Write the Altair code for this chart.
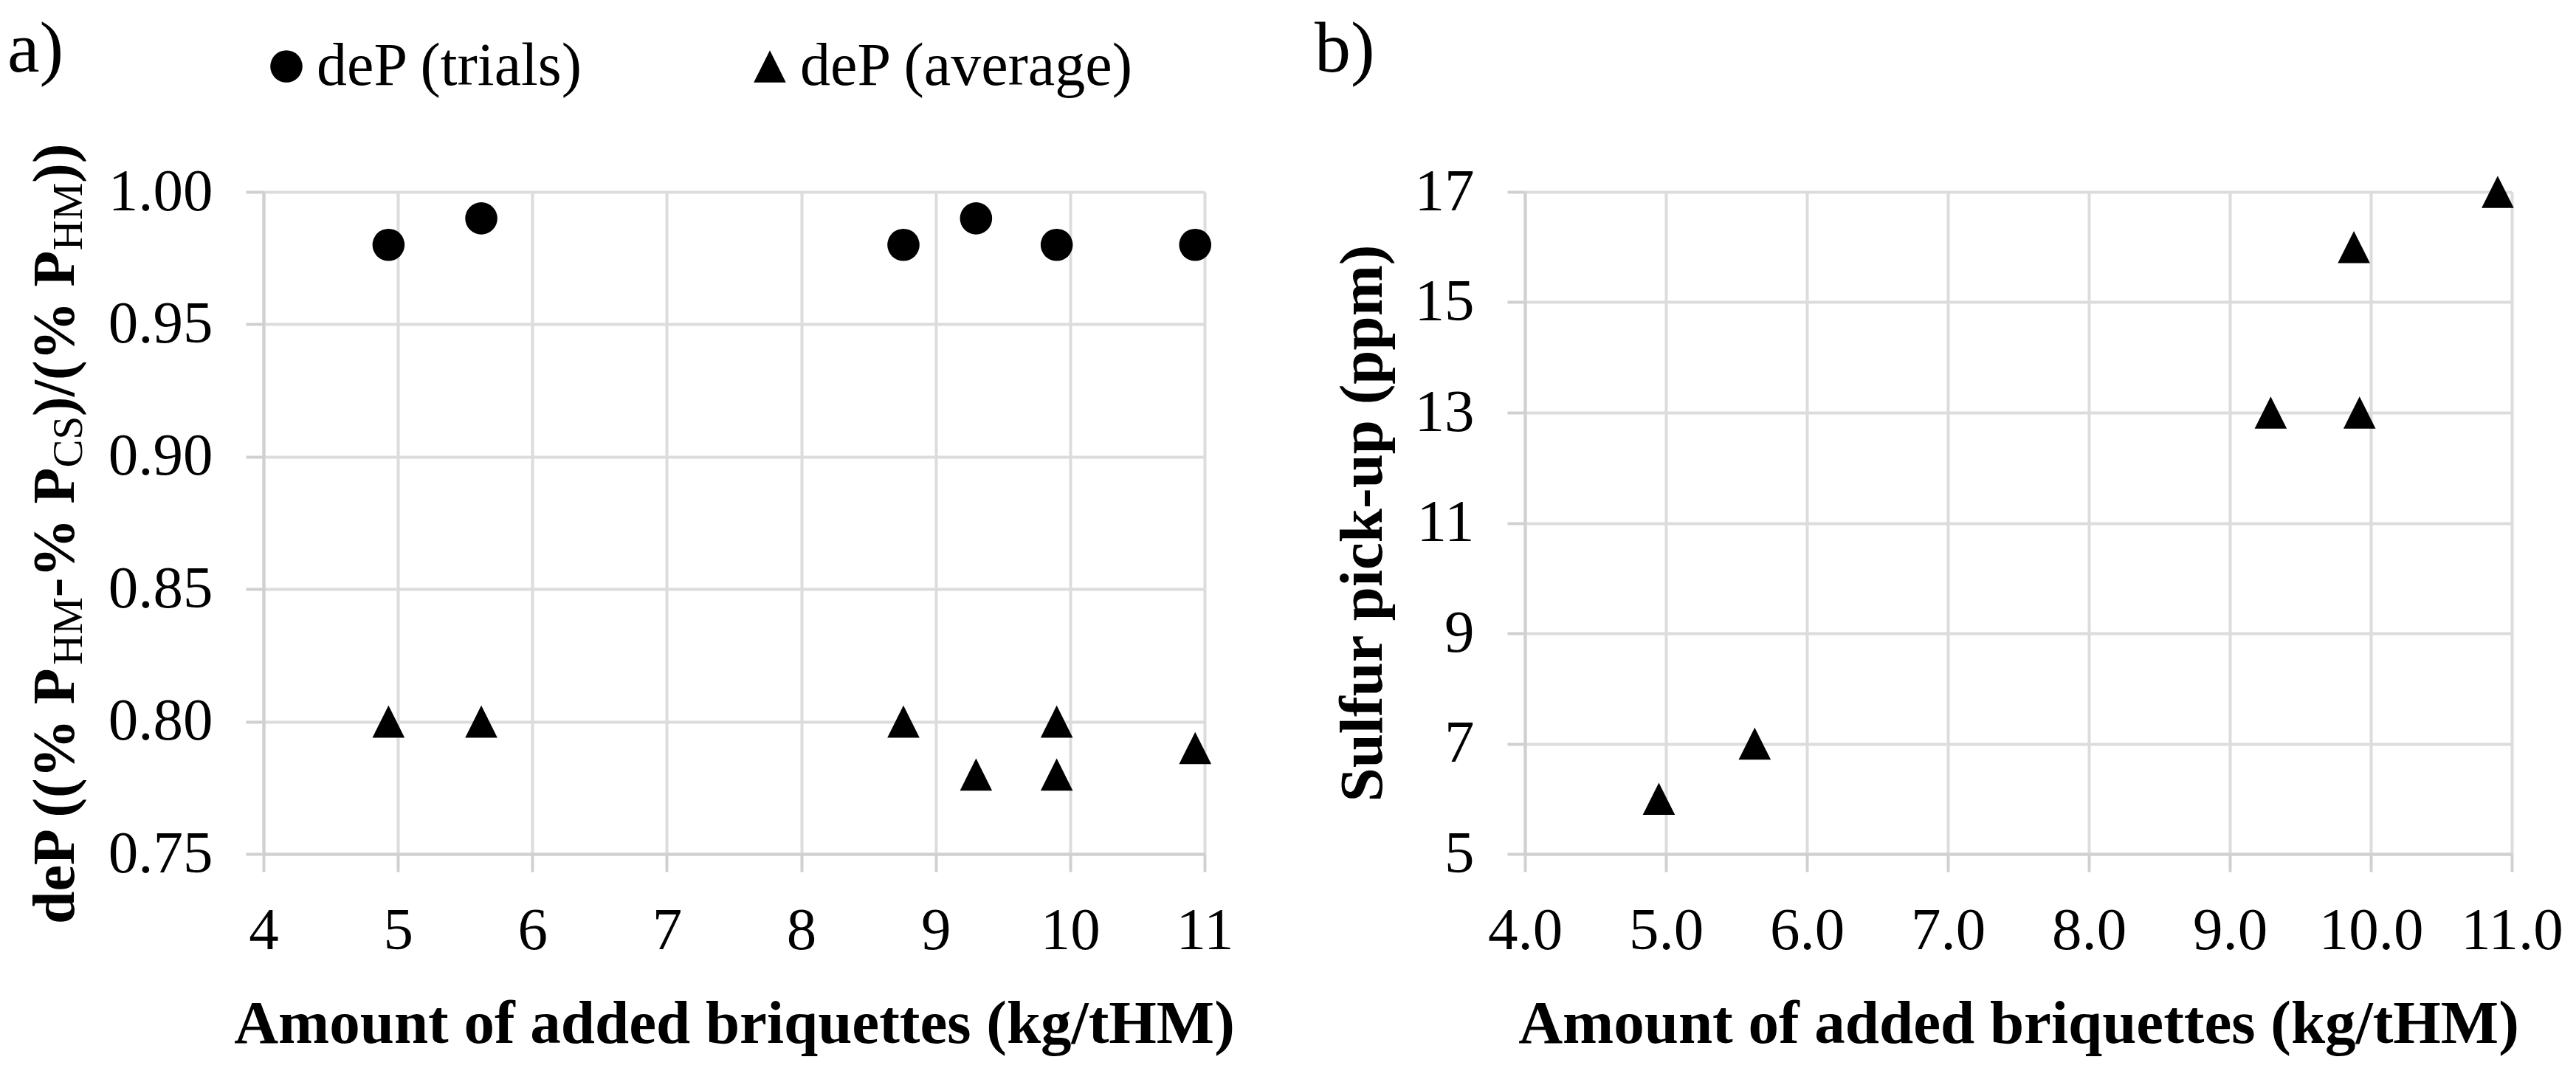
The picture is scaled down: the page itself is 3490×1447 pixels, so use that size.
import altair as alt
import pandas as pd

FONT = "Liberation Serif"

# ---- data ----
series_names = ["deP (trials)", "deP (average)"]

trial_x = [4.93, 5.62, 8.76, 9.30, 9.90, 10.93]
trial_y = [0.98, 0.99, 0.98, 0.99, 0.98, 0.98]

avg_x = [4.93, 5.62, 8.76, 9.30, 9.90, 9.90, 10.93]
avg_y = [0.80, 0.80, 0.80, 0.78, 0.80, 0.78, 0.79]

sulfur_x = [4.95, 5.63, 9.29, 9.88, 9.92, 10.90]
sulfur_y = [6, 7, 13, 16, 13, 17]

xticks_a = [4, 5, 6, 7, 8, 9, 10, 11]
yticks_a = [0.75, 0.80, 0.85, 0.90, 0.95, 1.00]
xticks_b = [4.0, 5.0, 6.0, 7.0, 8.0, 9.0, 10.0, 11.0]
yticks_b = [5, 7, 9, 11, 13, 15, 17]

panel_labels = ["a)", "b)"]
x_title = "Amount of added briquettes (kg/tHM)"
y_title_b = "Sulfur pick-up (ppm)"
# y title of panel a, split into normal and subscript parts
y_title_a_parts = ["deP ((% P", "HM", "-% P", "CS", ")/(% P", "HM", "))"]
y_title_a_sub = [False, True, False, True, False, True, False]

TRI = "M-1,1L0,-1L1,1Z"
GRID = "#dcdcdc"
DOMAIN = "#d0d0d0"
SYM = 1900

# Times-compatible advance widths (per 1000 em) for laying out the rich title
BOLD_W = {"d": 556, "e": 444, "P": 611, " ": 250, "(": 333, ")": 333,
          "%": 1000, "-": 333, "/": 278}
REG_W = {"H": 722, "M": 889, "C": 667, "S": 556}
MAIN_FS, SUB_FS = 80, 57

df_a = pd.concat([
    pd.DataFrame({"x": trial_x, "y": trial_y, "series": series_names[0]}),
    pd.DataFrame({"x": avg_x, "y": avg_y, "series": series_names[1]}),
], ignore_index=True)
df_b = pd.DataFrame({"x": sulfur_x, "y": sulfur_y})


def axis(values, fmt, title, orient):
    common = dict(
        values=values, format=fmt, title=title,
        grid=True, gridColor=GRID, gridWidth=4,
        domainColor=DOMAIN, domainWidth=4,
        tickColor=DOMAIN, tickWidth=4, tickSize=24,
        labelFont=FONT, labelFontSize=81, labelColor="black",
        labelOverlap=False, labelFlush=False,
        titleFont=FONT, titleFontSize=83, titleFontWeight="bold",
        titleColor="black",
    )
    if orient == "x":
        return alt.Axis(labelPadding=40, titlePadding=45, **common)
    return alt.Axis(labelPadding=45, titlePadding=28, **common)


W_A, W_B, H = 1275, 1337, 897

pts_a = alt.Chart(df_a).mark_point(filled=True, size=SYM, opacity=1, color="black", strokeWidth=0).encode(
    x=alt.X("x:Q", scale=alt.Scale(domain=[4, 11], nice=False, zero=False),
            axis=axis(xticks_a, "d", x_title, "x")),
    y=alt.Y("y:Q", scale=alt.Scale(domain=[0.75, 1.0], nice=False, zero=False),
            axis=axis(yticks_a, ".2f", None, "y")),
    shape=alt.Shape("series:N",
                    scale=alt.Scale(domain=series_names, range=["circle", TRI]),
                    legend=alt.Legend(orient="none", legendX=-10, legendY=-211,
                                      direction="horizontal", title=None,
                                      labelFont=FONT, labelFontSize=82, labelColor="black",
                                      labelLimit=2000,
                                      symbolSize=SYM, symbolFillColor="black",
                                      symbolStrokeWidth=0, symbolOpacity=1,
                                      labelOffset=0, columnPadding=210, padding=0)),
)

LABEL_FS = 98
LABEL_Y = -163  # baseline of the panel letter, relative to plot top

lab_a = alt.Chart(pd.DataFrame({"label": [panel_labels[0]]})).mark_text(
    font=FONT, fontSize=LABEL_FS, align="left", baseline="alphabetic", color="black"
).encode(text="label:N", x=alt.value(-347), y=alt.value(LABEL_Y))

# rich y title for panel a (rotated, reading bottom to top)
title_layers = []
pos = 992.0  # start (bottom) of the title, relative to plot top
for part, is_sub in zip(y_title_a_parts, y_title_a_sub):
    fs = SUB_FS if is_sub else MAIN_FS
    table = REG_W if is_sub else BOLD_W
    base_x = -246 if is_sub else -257
    title_layers.append(
        alt.Chart(pd.DataFrame({"t": [part]})).mark_text(
            font=FONT, fontSize=fs, fontWeight="normal" if is_sub else "bold",
            angle=270, align="left", baseline="alphabetic", color="black"
        ).encode(text="t:N", x=alt.value(base_x), y=alt.value(pos))
    )
    pos -= sum(table[c] for c in part) * fs / 1000.0

panel_a = alt.layer(pts_a, lab_a, *title_layers).properties(width=W_A, height=H)

pts_b = alt.Chart(df_b).mark_point(filled=True, shape=TRI, size=SYM, opacity=1, color="black", strokeWidth=0).encode(
    x=alt.X("x:Q", scale=alt.Scale(domain=[4, 11], nice=False, zero=False),
            axis=axis(xticks_b, ".1f", x_title, "x")),
    y=alt.Y("y:Q", scale=alt.Scale(domain=[5, 17], nice=False, zero=False),
            axis=axis(yticks_b, "d", y_title_b, "y")),
)

lab_b = alt.Chart(pd.DataFrame({"label": [panel_labels[1]]})).mark_text(
    font=FONT, fontSize=LABEL_FS, align="left", baseline="alphabetic", color="black"
).encode(text="label:N", x=alt.value(-285), y=alt.value(LABEL_Y))

panel_b = alt.layer(pts_b, lab_b).properties(width=W_B, height=H)

chart = alt.hconcat(panel_a, panel_b, spacing=434, bounds="flush").properties(
    padding={"left": 2, "top": 11, "right": 5, "bottom": 5}
).configure_view(strokeWidth=0)

chart.save("out.html", embed_options={"renderer": "svg", "actions": False})
